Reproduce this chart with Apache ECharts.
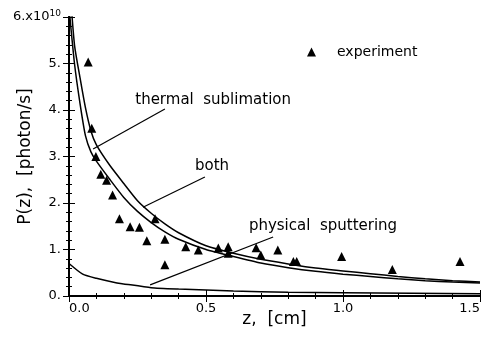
<!DOCTYPE html>
<html>
<head>
<meta charset="utf-8">
<script src="https://cdn.jsdelivr.net/npm/echarts@6/dist/echarts.min.js"></script>
<style>
    html, body { margin: 0; padding: 0; background: #fff; }
    #chart { width: 485px; height: 338px; }
</style>
</head>
<body>
<div id="chart"></div>
<script>
// 数据 (P in units of 1e10 photon/s)
var thermalZ = [0.00, 0.02, 0.04, 0.06, 0.08, 0.10, 0.15, 0.20, 0.25, 0.30, 0.35, 0.40, 0.50, 0.60, 0.70, 0.80, 0.90, 1.00, 1.10, 1.20, 1.30, 1.40, 1.50];
var thermalP = [6.2, 5.0, 4.15, 3.45, 3.1, 2.9, 2.5, 2.12, 1.82, 1.58, 1.38, 1.22, 1.0, 0.85, 0.71, 0.61, 0.53, 0.47, 0.42, 0.37, 0.33, 0.30, 0.28];
var bothZ = [0.00, 0.02, 0.04, 0.06, 0.08, 0.10, 0.15, 0.20, 0.25, 0.30, 0.35, 0.40, 0.50, 0.60, 0.70, 0.80, 0.90, 1.00, 1.10, 1.20, 1.30, 1.40, 1.50];
var bothP = [6.9, 5.4, 4.7, 4.05, 3.55, 3.25, 2.8, 2.42, 2.05, 1.78, 1.55, 1.36, 1.08, 0.92, 0.79, 0.69, 0.60, 0.54, 0.48, 0.42, 0.37, 0.33, 0.30];
var sputterZ = [0.00, 0.05, 0.10, 0.175, 0.20, 0.30, 0.40, 0.50, 0.60, 0.80, 1.00, 1.25, 1.50];
var sputterP = [0.70, 0.47, 0.38, 0.28, 0.26, 0.18, 0.15, 0.13, 0.11, 0.08, 0.07, 0.06, 0.05];
var expZ = [0.070, 0.083, 0.098, 0.116, 0.137, 0.159, 0.184, 0.223, 0.257, 0.284, 0.314, 0.350, 0.350, 0.426, 0.472, 0.545, 0.581, 0.581, 0.683, 0.700, 0.762, 0.819, 0.831, 0.995, 1.180, 1.427];
var expP = [5.03, 3.61, 3.0, 2.62, 2.49, 2.17, 1.66, 1.49, 1.48, 1.19, 1.66, 1.22, 0.67, 1.06, 0.99, 1.03, 1.06, 0.92, 1.04, 0.88, 0.99, 0.74, 0.74, 0.85, 0.57, 0.74];
var yTicks = [0, 1, 2, 3, 4, 5, 6];
var xTicks = [0, 0.5, 1.0, 1.5];

var FONT = 'DejaVu Sans';

function pairs(xs, ys) {
    return xs.map(function (x, i) { return [x, ys[i]]; });
}

var chart = echarts.init(document.getElementById('chart'));

var axisCommon = {
    axisLine: { show: true, lineStyle: { color: '#000', width: 2 } },
    axisTick: { show: true, inside: true, length: 6, lineStyle: { color: '#000', width: 1 } },
    minorTick: { show: true, splitNumber: 5, length: 3, lineStyle: { color: '#000', width: 1 } },
    splitLine: { show: false }
};

var option = {
    animation: false,
    backgroundColor: '#fff',
    textStyle: { fontFamily: FONT, color: '#000' },
    grid: { left: 69, right: 5, top: 17, bottom: 42, containLabel: false, outerBoundsMode: 'none' },
    legend: {
        data: [{ name: 'experiment', icon: 'triangle' }],
        left: 302, top: 40,
        itemWidth: 9, itemHeight: 9,
        textStyle: { fontFamily: FONT, fontSize: 14, color: '#000', padding: [0, 0, 0, 16] }
    },
    xAxis: [
        Object.assign({
            type: 'value', min: 0, max: 1.5, interval: 0.5,
            name: 'z,  [cm]', nameLocation: 'middle', nameGap: 15, nameMoveOverlap: false,
            nameTextStyle: { fontFamily: FONT, fontSize: 17, color: '#000' },
            axisLabel: {
                fontFamily: FONT, fontSize: 13, color: '#000', margin: 6,
                alignMinLabel: 'left', alignMaxLabel: 'right',
                formatter: function (v) { return v.toFixed(1); }
            }
        }, axisCommon),
        Object.assign({
            type: 'value', min: 0, max: 1.5, interval: 0.5, position: 'top',
            axisLabel: { show: false }
        }, axisCommon)
    ],
    yAxis: [
        Object.assign({
            type: 'value', min: 0, max: 6, interval: 1,
            name: 'P(z),  [photon/s]', nameLocation: 'middle', nameGap: 35, nameMoveOverlap: false,
            nameTextStyle: { fontFamily: FONT, fontSize: 17, color: '#000' },
            axisLabel: {
                fontFamily: FONT, fontSize: 13, color: '#000', margin: 8,
                formatter: function (v) {
                    return v === yTicks[yTicks.length - 1] ? v + '.x10{sup|10}' : v + '.';
                },
                rich: { sup: { fontFamily: FONT, fontSize: 9, color: '#000', verticalAlign: 'top', padding: [0, 0, 7, 0] } }
            }
        }, axisCommon),
        Object.assign({
            type: 'value', min: 0, max: 6, interval: 1, position: 'right',
            axisLabel: { show: false }
        }, axisCommon)
    ],
    series: [
        {
            name: 'thermal sublimation', type: 'line', data: pairs(thermalZ, thermalP),
            showSymbol: false, smooth: 0.2, clip: true,
            lineStyle: { color: '#000', width: 1.5 },
            markLine: {
                silent: true, symbol: 'none', label: { show: false },
                lineStyle: { color: '#000', width: 1.2, type: 'solid' },
                data: [
                    [{ coord: [0.350, 4.02] }, { coord: [0.088, 3.16] }],
                    [{ coord: [0.496, 2.56] }, { coord: [0.270, 1.91] }],
                    [{ coord: [0.745, 1.27] }, { coord: [0.296, 0.24] }]
                ]
            }
        },
        {
            name: 'both', type: 'line', data: pairs(bothZ, bothP),
            showSymbol: false, smooth: 0.2, clip: true,
            lineStyle: { color: '#000', width: 1.5 }
        },
        {
            name: 'physical sputtering', type: 'line', data: pairs(sputterZ, sputterP),
            showSymbol: false, smooth: 0.2, clip: true,
            lineStyle: { color: '#000', width: 1.5 }
        },
        {
            name: 'experiment', type: 'scatter', data: pairs(expZ, expP),
            symbol: 'triangle', symbolSize: 9,
            itemStyle: { color: '#000', opacity: 1 }
        },
        {
            name: 'notes', type: 'scatter', symbolSize: 0, silent: true,
            itemStyle: { color: '#000', opacity: 1 },
            data: [
                { value: [0.526, 4.22], name: 'thermal  sublimation' },
                { value: [0.522, 2.80], name: 'both' },
                { value: [0.927, 1.51], name: 'physical  sputtering' }
            ],
            label: {
                show: true, position: 'inside', formatter: '{b}',
                fontFamily: FONT, fontSize: 15, color: '#000',
                textBorderWidth: 0
            }
        }
    ]
};

chart.setOption(option);
</script>
</body>
</html>
